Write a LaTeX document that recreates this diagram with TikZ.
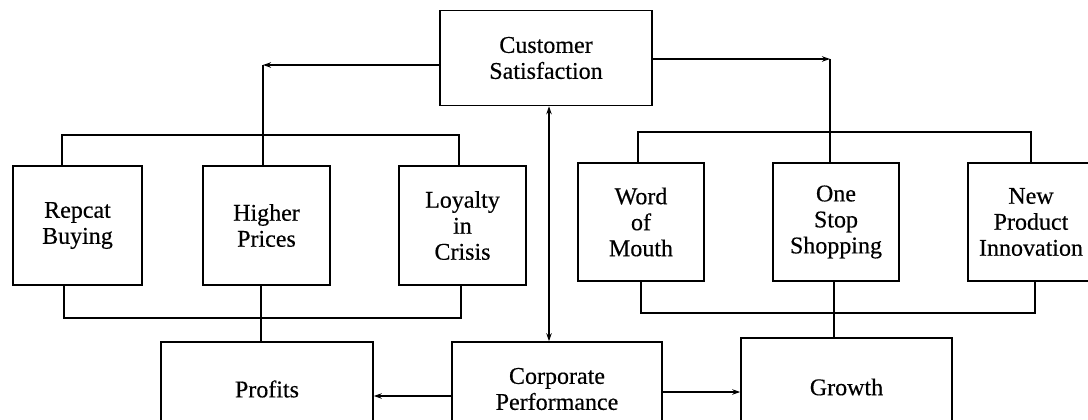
\documentclass[tikz,border=0pt]{standalone}
\usepackage{fontspec}
\setmainfont{Liberation Serif}
\newfontfamily\boxfont{Liberation Serif}[FakeBold=0.4]
\usetikzlibrary{arrows.meta}
\begin{document}
\begin{tikzpicture}[x=1pt,y=-1pt,
  box/.style={draw,line width=1.6pt,align=center,inner sep=0pt,font=\boxfont\fontsize{24}{26}\selectfont},
  conn/.style={line width=1.2pt},
  arr/.style={conn,-{Stealth[length=8pt,width=5.5pt]}},
  darr/.style={conn,{Stealth[length=8pt,width=5.5pt]}-{Stealth[length=8pt,width=5.5pt]}}]
\path[use as bounding box] (0,0) rectangle (1088,420);
\clip (0,0) rectangle (1088,420);
\fill[white] (0,0) rectangle (1088,420);
% boxes
\node[box,minimum width=212pt,minimum height=95pt] (cs) at (546,58) {Customer\\Satisfaction};
\node[box,minimum width=129pt,minimum height=119pt] (rb) at (77.5,225.5) {Repcat\\Buying};
\node[box,minimum width=127pt,minimum height=119pt] (hp) at (266.5,225.5) {Higher\\Prices};
\node[box,minimum width=127pt,minimum height=119pt] (lc) at (462.5,225.5) {Loyalty\\in\\Crisis};
\node[box,minimum width=126pt,minimum height=118pt] (wm) at (641,222) {Word\\of\\Mouth};
\node[box,minimum width=126pt,minimum height=118pt] (os) at (836,222) {One\\Stop\\Shopping};
\node[box,minimum width=126pt,minimum height=118pt] (np) at (1031,222) {New\\Product\\Innovation};
\node[box,minimum width=212pt,minimum height=94pt] (pr) at (267,389) {Profits};
\node[box,minimum width=210pt,minimum height=94pt] (cp) at (557,389) {Corporate\\Performance};
\node[box,minimum width=211pt,minimum height=98pt] (gr) at (846.5,387) {Growth};
% helper coordinates
\coordinate (c1) at (263,65);
\coordinate (c2) at (830,59);
\coordinate (t1) at (62,135);
\coordinate (t2) at (459,135);
\coordinate (b1) at (64,318);
\coordinate (b2) at (461,318);
\coordinate (t3) at (638,132);
\coordinate (t4) at (1031,132);
\coordinate (b3) at (641,313);
\coordinate (b4) at (1035,313);
\coordinate (d1) at (261,0);
\coordinate (d2) at (834,0);
\coordinate (d3) at (549,0);
\coordinate (d4) at (0,396);
\coordinate (d5) at (0,392);
% connectors
\draw[arr] (cs.west |- c1) -- (c1);
\draw[conn] (c1) -- (c1 |- hp.north);
\draw[arr] (cs.east |- c2) -- (c2);
\draw[conn] (c2) -- (c2 |- os.north);
\draw[conn] (t1 |- rb.north) -- (t1) -- (t2) -- (t2 |- lc.north);
\draw[conn] (b1 |- rb.south) -- (b1) -- (b2) -- (b2 |- lc.south);
\draw[conn] (t3 |- wm.north) -- (t3) -- (t4) -- (t4 |- np.north);
\draw[conn] (b3 |- wm.south) -- (b3) -- (b4) -- (b4 |- np.south);
\draw[conn] (d1 |- hp.south) -- (d1 |- pr.north);
\draw[conn] (d2 |- os.south) -- (d2 |- gr.north);
\draw[darr] (d3 |- cs.south) -- (d3 |- cp.north);
\draw[arr] (cp.west |- d4) -- (pr.east |- d4);
\draw[arr] (cp.east |- d5) -- (gr.west |- d5);
\end{tikzpicture}
\end{document}
